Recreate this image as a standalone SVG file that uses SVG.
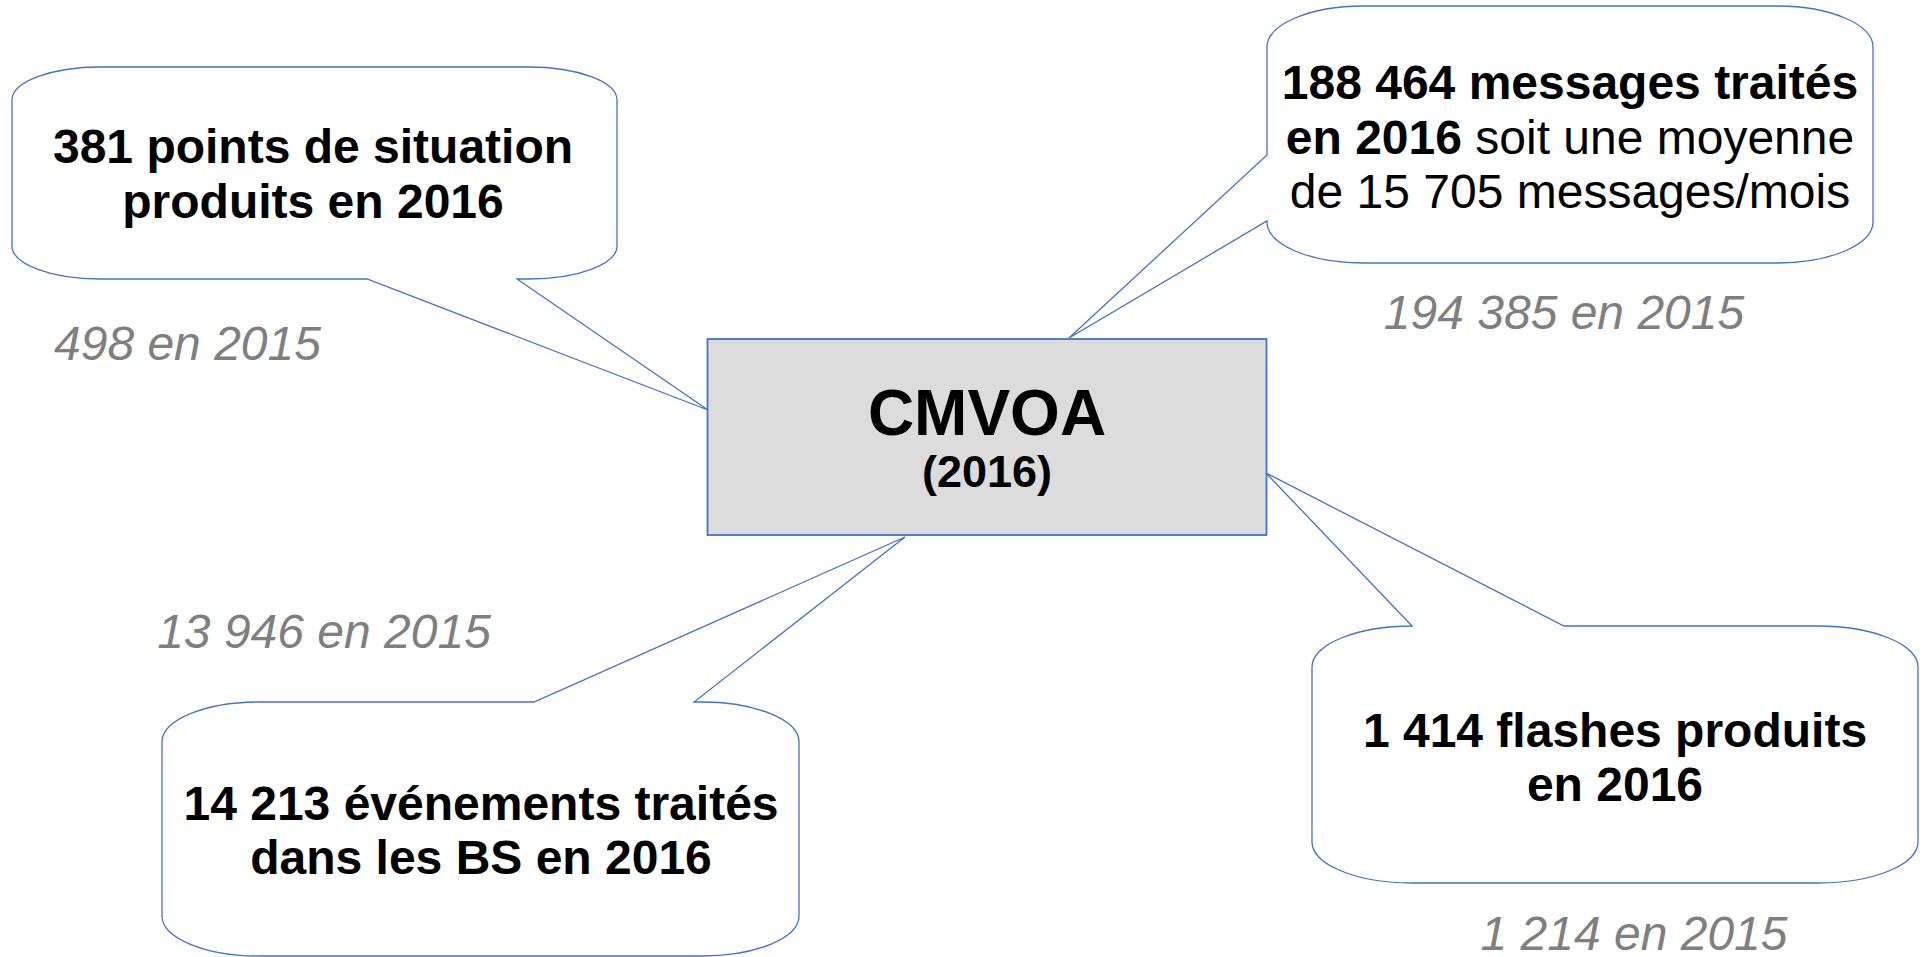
<svg xmlns="http://www.w3.org/2000/svg" width="1924" height="957" viewBox="0 0 1924 957">
<style>
.bub{fill:#ffffff;stroke:#4472c4;stroke-width:1.3;stroke-linejoin:miter}
.box{fill:#dcdcdc;stroke:#4472c4;stroke-width:1.8}
.t{font-family:"Liberation Sans",Arial,sans-serif;font-size:48px;fill:#000000;text-anchor:middle}
.b{font-weight:bold}
.old{font-family:"Liberation Sans",Arial,sans-serif;font-size:48px;font-style:italic;fill:#7f7f7f}
</style>
<rect width="1924" height="957" fill="#ffffff"/>
<g id="connectors">
<path id="callout-tail-1" class="bub" d="M100,67 H529 A88 33 0 0 1 617 100 V246 A88 33 0 0 1 529 279 H517 L708 410 L367 279 H100 A88 33 0 0 1 12 246 V100 A88 33 0 0 1 100 67 Z"/>
</g>
<g id="node-cmvoa">
<rect class="box" x="707.5" y="339" width="559" height="196"/>
<text class="t b" x="987" y="435" style="font-size:64px">CMVOA</text>
<text class="t b" x="987" y="487" style="font-size:45px">(2016)</text>
</g>
<g id="node-points">
<text class="t b" x="313" y="162.5">381 points de situation</text>
<text class="t b" x="313" y="217.5">produits en 2016</text>
<text class="old" x="54" y="360">498 en 2015</text>
</g>
<g id="node-messages">
<path class="bub" d="M1363,6 H1777 A96 41 0 0 1 1873 47 V222 A96 41 0 0 1 1777 263 H1363 A96 41 0 0 1 1267 222 V221 L1069 338 L1267 155 V47 A96 41 0 0 1 1363 6 Z"/>
<text class="t b" x="1570" y="99">188 464 messages traités</text>
<text class="t" x="1570" y="153.5"><tspan font-weight="bold">en 2016</tspan> soit une moyenne</text>
<text class="t" x="1570" y="208">de 15 705 messages/mois</text>
<text class="old" x="1564" y="329" text-anchor="middle">194 385 en 2015</text>
</g>
<g id="node-evenements">
<path class="bub" d="M259,702 H534 L905 537 L694 702 H702 A97 40 0 0 1 799 742 V916 A97 40 0 0 1 702 956 H259 A97 40 0 0 1 162 916 V742 A97 40 0 0 1 259 702 Z"/>
<text class="t b" x="481" y="820">14 213 événements traités</text>
<text class="t b" x="481" y="874">dans les BS en 2016</text>
<text class="old" x="324" y="648" text-anchor="middle">13 946 en 2015</text>
</g>
<g id="node-flashes">
<path class="bub" d="M1412,626 L1266 473 L1564 626 H1818 A100 41 0 0 1 1918 667 V842 A100 41 0 0 1 1818 883 H1412 A100 41 0 0 1 1312 842 V667 A100 41 0 0 1 1412 626 Z"/>
<text class="t b" x="1615" y="747">1 414 flashes produits</text>
<text class="t b" x="1615" y="801">en 2016</text>
<text class="old" x="1634" y="950" text-anchor="middle">1 214 en 2015</text>
</g>
</svg>
